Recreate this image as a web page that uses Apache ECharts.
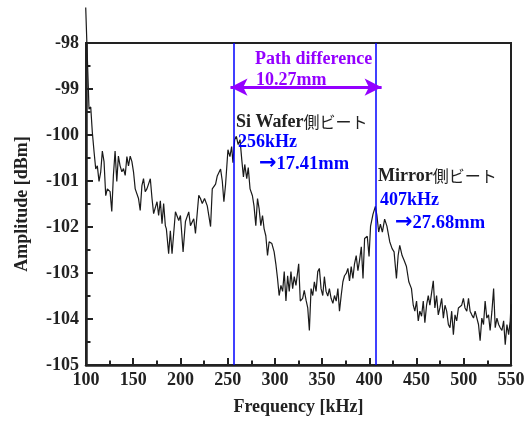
<!DOCTYPE html>
<html>
<head>
<meta charset="utf-8">
<script src="https://cdn.jsdelivr.net/npm/echarts@6/dist/echarts.min.js"></script>
<style>
  html, body { margin: 0; padding: 0; background: #fff; }
  #chart { width: 529px; height: 421px; }
</style>
</head>
<body>
<div id="chart"></div>
<script>
// spectrum
const freqKHz = [
  99.7, 103.2, 105.0, 106.7, 108.5, 110.3, 112.0, 113.8, 115.6, 117.3,
  119.1, 120.9, 122.6, 125.5, 127.3, 129.0, 130.8, 132.6, 134.3, 136.1,
  138.0, 139.7, 141.5, 143.3, 145.0, 146.8, 148.6, 150.3, 152.1, 153.9,
  155.6, 157.4, 159.2, 160.9, 162.7, 164.5, 166.2, 168.1, 169.9, 171.6,
  173.4, 175.2, 176.9, 178.7, 180.5, 182.2, 184.0, 185.1, 187.5, 189.3,
  191.1, 194.7, 198.2, 200.0, 202.8, 205.3, 208.8, 210.6, 214.1, 215.9,
  219.4, 221.2, 223.1, 225.5, 228.4, 231.9, 233.7, 237.2, 239.0, 242.5,
  244.3, 246.0, 247.8, 250.3, 252.4, 254.2, 255.6, 257.4, 259.2, 261.1,
  263.1, 264.9, 266.7, 268.1, 270.2, 271.8, 273.7, 276.2, 277.9, 279.8,
  281.6, 283.3, 285.1, 286.9, 288.6, 290.4, 292.2, 293.9, 296.8, 299.2,
  301.0, 302.8, 304.5, 306.4, 308.2, 309.9, 311.7, 313.5, 315.2, 317.0,
  318.8, 320.5, 322.3, 325.2, 326.9, 329.4, 331.1, 333.0, 334.8, 336.5,
  338.3, 340.1, 341.8, 343.6, 345.4, 347.1, 348.9, 350.7, 352.4, 354.2,
  356.0, 357.7, 359.5, 361.4, 363.1, 364.9, 366.7, 368.4, 370.2, 372.0,
  373.7, 375.5, 377.3, 379.0, 380.8, 382.6, 384.3, 386.1, 387.9, 389.6,
  391.5, 393.3, 395.0, 397.8, 399.7, 401.3, 403.9, 406.4, 408.1, 409.9,
  411.7, 413.8, 416.2, 418.6, 421.6, 424.1, 426.2, 428.7, 430.5, 432.2,
  434.7, 436.9, 439.3, 441.8, 444.6, 446.5, 448.2, 450.0, 451.8, 453.5,
  455.3, 457.1, 458.8, 460.6, 462.4, 464.1, 467.7, 469.4, 471.2, 473.0,
  474.7, 476.6, 478.4, 480.1, 481.9, 483.7, 485.4, 487.2, 489.0, 490.7,
  492.5, 494.3, 497.8, 499.6, 501.3, 503.2, 505.0, 506.7, 508.5, 510.3,
  512.0, 515.6, 517.3, 519.1, 520.9, 522.6, 524.4, 526.2, 527.9, 529.8,
  531.6, 533.3, 535.1, 536.9, 538.6, 540.4, 542.2, 543.9, 545.7, 547.5,
  549.2, 550.0
]
const amplitudeDbm = [
  -97.23, -99.44, -99.39, -99.94, -100.36, -100.74, -100.67, -101.01, -100.80, -100.35,
  -100.58, -101.32, -101.17, -101.23, -101.66, -100.88, -100.35, -101.01, -100.46, -100.67,
  -100.80, -100.73, -100.88, -100.47, -100.67, -100.46, -100.58, -100.80, -101.17, -101.21,
  -101.38, -101.64, -101.10, -100.95, -101.23, -101.17, -101.21, -100.95, -101.38, -101.71,
  -101.75, -101.45, -101.75, -101.43, -101.93, -101.49, -101.97, -102.04, -102.58, -102.08,
  -102.58, -101.67, -101.86, -101.75, -102.54, -101.88, -101.67, -101.97, -101.82, -102.14,
  -101.31, -101.38, -101.49, -101.38, -101.54, -101.99, -101.17, -101.07, -100.89, -100.74,
  -101.00, -101.45, -101.07, -100.32, -100.47, -100.25, -100.60, -100.10, -100.03, -100.21,
  -100.10, -100.53, -100.91, -100.64, -100.95, -100.71, -101.17, -101.32, -101.54, -101.97,
  -101.38, -101.60, -101.97, -101.75, -102.04, -102.19, -102.62, -102.32, -102.36, -102.54,
  -102.80, -103.12, -103.49, -103.27, -103.40, -102.97, -103.61, -103.06, -103.40, -102.97,
  -103.34, -103.08, -103.27, -102.80, -103.61, -103.55, -103.38, -103.59, -103.76, -104.25,
  -103.34, -103.49, -103.19, -103.40, -102.97, -102.90, -103.34, -103.49, -103.08, -103.40,
  -103.50, -103.34, -103.55, -103.66, -103.49, -103.61, -103.34, -103.83, -103.49, -103.19,
  -103.06, -103.01, -102.90, -103.17, -102.86, -103.12, -102.80, -102.62, -102.95, -102.73,
  -102.43, -103.12, -102.25, -102.20, -102.64, -101.98, -101.72, -101.55, -101.76, -102.11,
  -101.94, -102.11, -101.83, -101.98, -102.32, -102.47, -102.54, -103.12, -102.62, -102.40,
  -102.62, -102.73, -102.86, -103.19, -103.34, -103.70, -103.83, -103.61, -104.04, -103.83,
  -103.94, -103.61, -104.08, -103.70, -103.49, -103.70, -103.17, -103.76, -103.49, -103.91,
  -103.76, -103.55, -103.98, -103.70, -103.83, -104.12, -104.19, -103.83, -104.34, -103.91,
  -104.04, -103.76, -103.70, -103.55, -103.76, -103.83, -103.55, -103.83, -103.91, -103.98,
  -103.83, -104.12, -104.47, -103.98, -104.12, -103.61, -103.98, -103.91, -104.25, -103.83,
  -103.34, -104.19, -103.98, -104.12, -104.19, -104.25, -104.04, -104.56, -104.12, -104.34,
  -104.04, -103.68
]
const beatFreqs = [256, 407]          // kHz, blue markers
const arrowSpan = [253, 413]          // path difference arrow tips
const arrowLevel = -98.96
const xTicks = [100, 550, 50]         // min, max, step
const yTicks = [-105, -98, 1]

const serif = "'Liberation Serif', 'Times New Roman', serif"
const cjk = "'Noto Sans CJK JP', sans-serif"
const purple = '#9400ff'
const blue = '#0000ff'

const chart = echarts.init(document.getElementById('chart'))

const txt = (x, y, text, color, rich) => ({
  type: 'text', x: x, y: y, z: 100,
  style: {
    text: text, fill: color, verticalAlign: 'middle',
    font: 'bold 18px ' + serif, rich: rich
  }
})
const cjkRich = {
  a: { fontFamily: serif, fontWeight: 'bold', fontSize: 18, color: '#222' },
  b: { fontFamily: cjk, fontWeight: 'normal', fontSize: 16, color: '#222' }
}
const arrowRich = {
  r: { fontFamily: "'DejaVu Sans'", fontWeight: 'bold', fontSize: 21, color: blue },
  t: { fontFamily: serif, fontWeight: 'bold', fontSize: 18.5, color: blue }
}

chart.setOption({
  animation: false,
  backgroundColor: '#fff',
  grid: {
    left: 86, right: 18, top: 43, bottom: 52,
    show: true, borderColor: '#222', borderWidth: 2, containLabel: false
  },
  xAxis: {
    type: 'value',
    min: xTicks[0], max: xTicks[1], interval: xTicks[2],
    name: 'Frequency [kHz]',
    nameLocation: 'middle', nameGap: 33,
    nameTextStyle: { fontFamily: serif, fontWeight: 'bold', fontSize: 18, color: '#222' },
    axisLine: { onZero: false, lineStyle: { color: '#222', width: 2.5 } },
    axisTick: { inside: true, length: 7, lineStyle: { color: '#222', width: 2 } },
    minorTick: { show: true, splitNumber: 2, length: 4.5, lineStyle: { color: '#222', width: 2 } },
    axisLabel: { fontFamily: serif, fontWeight: 'bold', fontSize: 18, color: '#222', margin: 6 },
    splitLine: { show: false }
  },
  yAxis: {
    type: 'value',
    min: yTicks[0], max: yTicks[1], interval: yTicks[2],
    name: 'Amplitude [dBm]',
    nameLocation: 'middle', nameGap: 55,
    nameTextStyle: { fontFamily: serif, fontWeight: 'bold', fontSize: 18, color: '#222' },
    axisLine: { show: true, onZero: false, lineStyle: { color: '#222', width: 2.5 } },
    axisTick: { show: true, inside: true, length: 7, lineStyle: { color: '#222', width: 2 } },
    minorTick: { show: true, splitNumber: 2, length: 4.5, lineStyle: { color: '#222', width: 2 } },
    axisLabel: { fontFamily: serif, fontWeight: 'bold', fontSize: 18, color: '#222', margin: 7 },
    splitLine: { show: false }
  },
  series: [
    {
      type: 'line',
      data: freqKHz.map((f, i) => [f, amplitudeDbm[i]]),
      showSymbol: false,
      clip: false,
      lineStyle: { color: '#1a1a1a', width: 1.2 },
      markLine: {
        silent: true,
        symbol: 'none',
        label: { show: false },
        lineStyle: { color: blue, width: 1.5, type: 'solid' },
        data: beatFreqs.map(f => ({ xAxis: f }))
      }
    },
    {
      type: 'line',
      data: [],
      markLine: {
        silent: true,
        symbol: ['arrow', 'arrow'],
        symbolSize: [13, 17],
        label: { show: false },
        lineStyle: { color: purple, width: 3, type: 'solid' },
        data: [[{ coord: [arrowSpan[0], arrowLevel] }, { coord: [arrowSpan[1], arrowLevel] }]]
      }
    }
  ],
  graphic: [
    txt(255, 59, 'Path difference', purple),
    txt(256, 80, '10.27mm', purple),
    txt(236, 122, '{a|Si Wafer}{b|側ビート}', '#222', cjkRich),
    txt(238, 142, '256kHz', blue),
    txt(259, 164, '{r|→}{t|17.41mm}', blue, arrowRich),
    txt(378, 176, '{a|Mirror}{b|側ビート}', '#222', cjkRich),
    txt(380, 200, '407kHz', blue),
    txt(395, 223, '{r|→}{t|27.68mm}', blue, arrowRich)
  ]
})
</script>
</body>
</html>
